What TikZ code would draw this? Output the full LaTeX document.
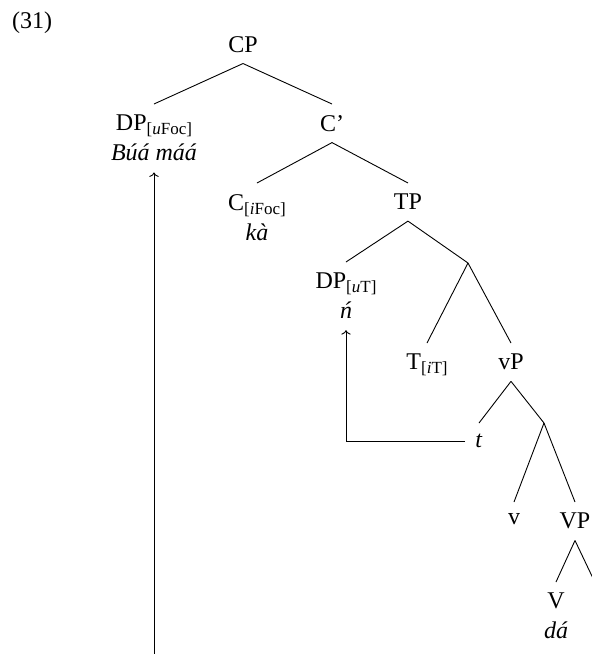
\documentclass[tikz,border=0pt]{standalone}
\usepackage{fontspec}
\setmainfont{Liberation Serif}
\usetikzlibrary{arrows.meta}
\newcommand\fsub[1]{\raisebox{-4pt}{\fontsize{17}{17}\selectfont #1}}
\tikzset{
  lab/.style={inner xsep=10pt, inner ysep=11pt, align=center, anchor=north,
    font=\fontsize{24}{30}\selectfont},
  edge/.style={line width=0.9pt},
  mv/.style={line width=0.9pt, -{To[scale=1.25]}},
}
\begin{document}
\begin{tikzpicture}[x=1pt, y=-1pt]
\useasboundingbox (0,0) rectangle (592,654);
\clip (0,0) rectangle (592,654);
\node[anchor=base west, inner sep=0pt, font=\fontsize{24}{30}\selectfont] (ex) at (12,28) {(31)};
% nodes
\node[lab] (cp) at (243,25) {CP};
\node[lab] (dpf) at (154,104) {DP\fsub{[\textit{u}Foc]}\\\textit{Búá máá}};
\node[lab] (cbar) at (332,104) {C’};
\node[lab] (c) at (257,183) {C\fsub{[\textit{i}Foc]}\\\textit{kà}};
\node[lab] (tp) at (408,183) {TP};
\node[lab] (dpu) at (346,262) {DP\fsub{[\textit{u}T]}\\\textit{ń}};
\coordinate (x1) at (468,263);
\node[lab] (t) at (427,343) {T\fsub{[\textit{i}T]}};
\node[lab] (vp) at (511,343) {vP};
\node[lab] (tr) at (479,423) {\textit{t}};
\coordinate (x2) at (544,423);
\node[lab] (v) at (514,502) {v};
\node[lab] (bigvp) at (575,502) {VP};
\node[lab] (bigv) at (556,582) {V\\\textit{dá}};
\coordinate (vcomp) at (600,593);
\coordinate (lowtrace) at (154,680);
% edges
\draw[edge] (cp.south) -- (dpf.north);
\draw[edge] (cp.south) -- (cbar.north);
\draw[edge] (cbar.south) -- (c.north);
\draw[edge] (cbar.south) -- (tp.north);
\draw[edge] (tp.south) -- (dpu.north);
\draw[edge] (tp.south) -- (x1);
\draw[edge] (x1) -- (t.north);
\draw[edge] (x1) -- (vp.north);
\draw[edge] (vp.south) -- (tr.north);
\draw[edge] (vp.south) -- (x2);
\draw[edge] (x2) -- (v.north);
\draw[edge] (x2) -- (bigvp.north);
\draw[edge] (bigvp.south) -- (bigv.north);
\draw[edge] (bigvp.south) -- (vcomp);
% movement arrows
\draw[mv] (tr.west) -| (dpu.south);
\draw[mv] (lowtrace) -- (dpf.south);
\end{tikzpicture}
\end{document}
